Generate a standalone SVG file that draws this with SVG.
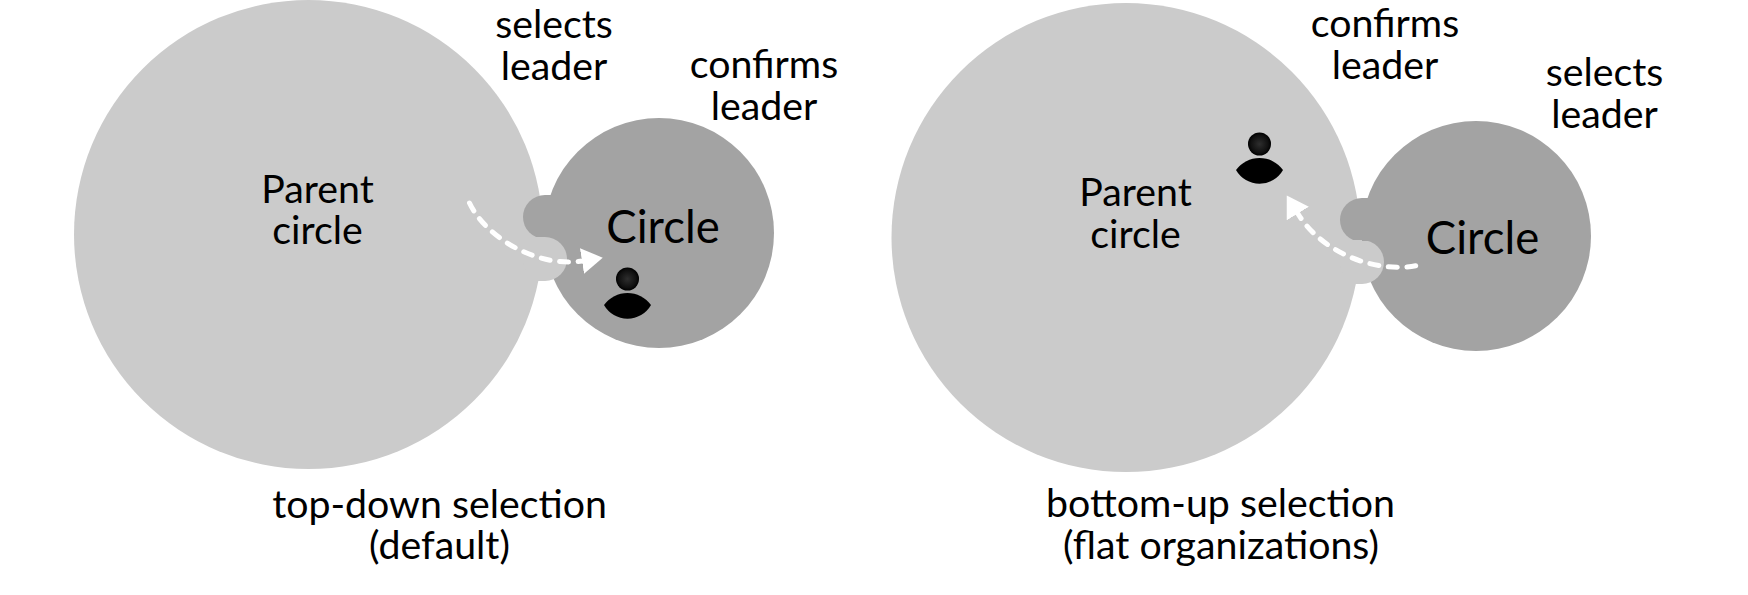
<svg xmlns="http://www.w3.org/2000/svg" width="1748" height="595" viewBox="0 0 1748 595">
<style>
text{font-family:"Lato","Liberation Sans",sans-serif;font-size:39.3px;fill:#000;text-anchor:middle}
.big{font-size:45.5px}
.parent{fill:#cbcbcb}
.child{fill:#a3a3a3}
.flow{fill:none;stroke:#fff;stroke-width:5;stroke-linecap:round;stroke-dasharray:9 9.6;marker-end:url(#tip)}
</style>
<defs>
<marker id="tip" markerUnits="userSpaceOnUse" markerWidth="24" markerHeight="28" refX="0" refY="13" orient="auto"><path d="M0 0L21 13L0 26Z" fill="#fff"/></marker>
<radialGradient id="headFill"><stop offset="0" stop-color="#2e2e2e"/><stop offset="0.75" stop-color="#101010"/><stop offset="1" stop-color="#000"/></radialGradient>
<g id="person"><circle cx="0" cy="-26" r="11.5" fill="url(#headFill)"/><path d="M-23.5 0A29 29 0 0 1 23.5 0A27 27 0 0 1 -23.5 0Z" fill="#000"/></g>
</defs>
<rect width="1748" height="595" fill="#fff"/>
<g id="left-parent"><circle class="parent" cx="308.5" cy="234.5" r="234.5"/><text x="317.5" y="202.5">Parent</text><text x="317.5" y="244">circle</text></g>
<g id="left-circle"><circle class="child" cx="659" cy="233" r="115"/><circle class="child" cx="545" cy="217" r="22"/><circle class="parent" cx="545" cy="259" r="22"/><path class="child" d="M545 195H590V237H545Z"/><path class="parent" d="M530 237H545V281H530Z"/><text class="big" x="663" y="243">Circle</text></g>
<g id="left-person"><use href="#person" x="627.5" y="305"/></g>
<g id="right-parent"><circle class="parent" cx="1126" cy="237.5" r="234.5"/><text x="1135.5" y="206">Parent</text><text x="1135.5" y="247.5">circle</text></g>
<g id="right-circle"><circle class="child" cx="1476" cy="236" r="115"/><circle class="child" cx="1362" cy="220" r="22"/><circle class="parent" cx="1362" cy="262" r="22"/><path class="child" d="M1362 198H1410V241H1362Z"/><path class="parent" d="M1347 240H1362V284H1347Z"/><text class="big" x="1482.5" y="253.5">Circle</text></g>
<g id="right-person"><use href="#person" x="1259.5" y="170"/></g>
<g id="connectors">
<path class="flow" d="M469.5 203C486 238 538 268 582 261"/>
<path class="flow" d="M1415.7 265.7C1380 273 1324 256 1297.8 213.5"/>
</g>
<g id="labels">
<text x="554" y="38">selects</text><text x="554" y="80">leader</text>
<text x="764" y="78">confirms</text><text x="764" y="120">leader</text>
<text x="439.5" y="518">top-down selection</text><text x="439.5" y="559">(default)</text>
<text x="1385" y="37">confirms</text><text x="1385" y="79">leader</text>
<text x="1604.5" y="86">selects</text><text x="1604.5" y="128">leader</text>
<text x="1220.5" y="517">bottom-up selection</text><text x="1221" y="559">(flat organizations)</text>
</g>
</svg>
